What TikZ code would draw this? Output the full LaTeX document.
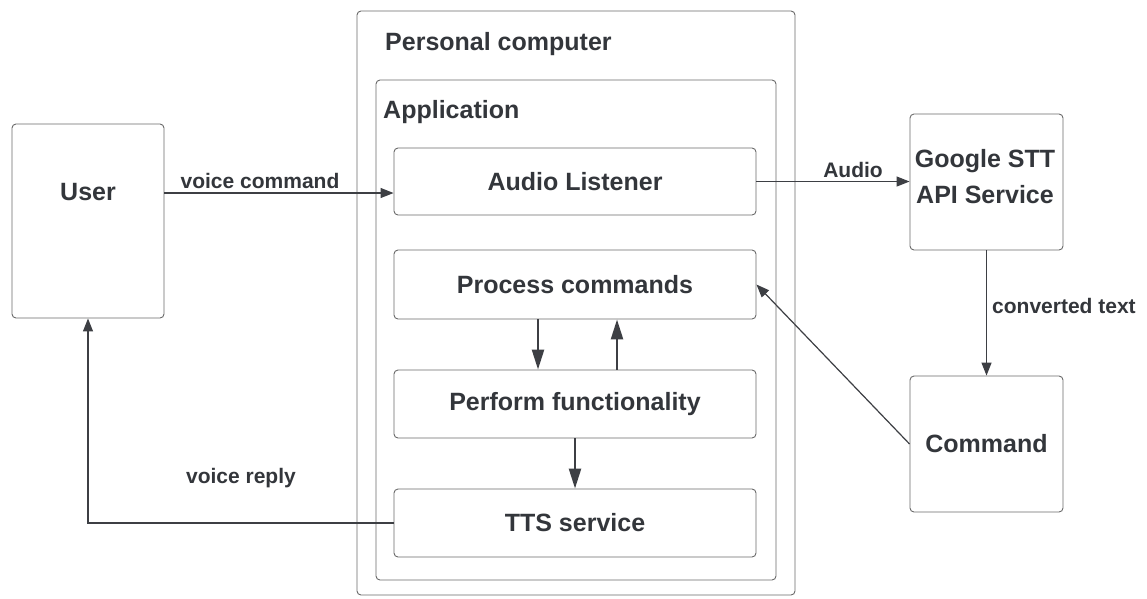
\documentclass[tikz,border=0pt]{standalone}
\usepackage{fontspec}
\setmainfont{Liberation Sans}
\usetikzlibrary{arrows.meta,calc}
\definecolor{txt}{HTML}{33363B}
\definecolor{edgec}{HTML}{6A6A6A}
\definecolor{connc}{HTML}{3D3F44}
\begin{document}
\begin{tikzpicture}[x=1pt,y=-1pt,
  box/.style={draw=edgec,line width=0.9pt,rounded corners=4pt,inner sep=0pt,fill=white},
  btxt/.style={text=txt,inner sep=0pt,font=\fontsize{25}{36}\selectfont\bfseries},
  ltxt/.style={text=txt,inner sep=0pt,font=\fontsize{21}{25}\selectfont\bfseries},
  conn/.style={draw=connc,line width=1.2pt,-{Triangle[length=13pt,width=10pt]}},
  inarr/.style={draw=connc,line width=2.4pt,-{Triangle[length=20pt,width=12pt]}}]
\useasboundingbox (0,0) rectangle (1147,598);
\fill[white] (0,0) rectangle (1147,598);
% containers
\node[box,minimum width=438pt,minimum height=584pt] (pc) at (576,303) {};
\node[btxt,anchor=base west] (pctxt) at (385,50) {Personal computer};
\node[box,minimum width=400pt,minimum height=500pt] (app) at (576,330) {};
\node[btxt,anchor=base west] (apptxt) at (383,118) {Application};
% boxes
\node[box,minimum width=152pt,minimum height=194pt] (user) at (88,221) {};
\node[btxt,anchor=base] (usertxt) at (88,200) {User};
\node[box,btxt,minimum width=362pt,minimum height=67pt] (audio) at (575,181.5) {Audio Listener};
\node[box,btxt,minimum width=362pt,minimum height=69pt] (proc) at (575,284.5) {Process commands};
\node[box,btxt,minimum width=362pt,minimum height=68pt] (perf) at (575,404) {Perform functionality};
\node[box,btxt,minimum width=362pt,minimum height=68pt] (tts) at (575,523) {TTS service};
\node[box,minimum width=153pt,minimum height=136pt] (stt) at (986.5,182) {};
\node[btxt,anchor=base,align=center] (stttxt) at (985,203) {Google STT\\API Service};
\node[box,btxt,minimum width=153pt,minimum height=136pt] (cmd) at (986.5,444) {Command};
% connectors
\coordinate (vcend) at ([yshift=-11.5pt]audio.west);
\draw[conn] (user.east |- vcend) -- (vcend);
\node[ltxt,anchor=base] (vclab) at (260,188) {voice command};
\draw[conn] (audio.east) -- (audio.east -| stt.west);
\node[ltxt,anchor=base] (aulab) at (853,177) {Audio};
\draw[conn] (stt.south) -- (cmd.north);
\node[ltxt,anchor=base west] (ctlab) at (992,313) {converted text};
\draw[conn] (cmd.west) -- (proc.east);
\draw[inarr] (proc.south -| 538,0) -- (perf.north -| 538,0);
\draw[inarr] (perf.north -| 617,0) -- (proc.south -| 617,0);
\draw[inarr] (perf.south) -- (tts.north);
\draw[conn] (tts.west) -| (user.south);
\node[ltxt,anchor=base] (vrlab) at (241,483) {voice reply};
\end{tikzpicture}
\end{document}
